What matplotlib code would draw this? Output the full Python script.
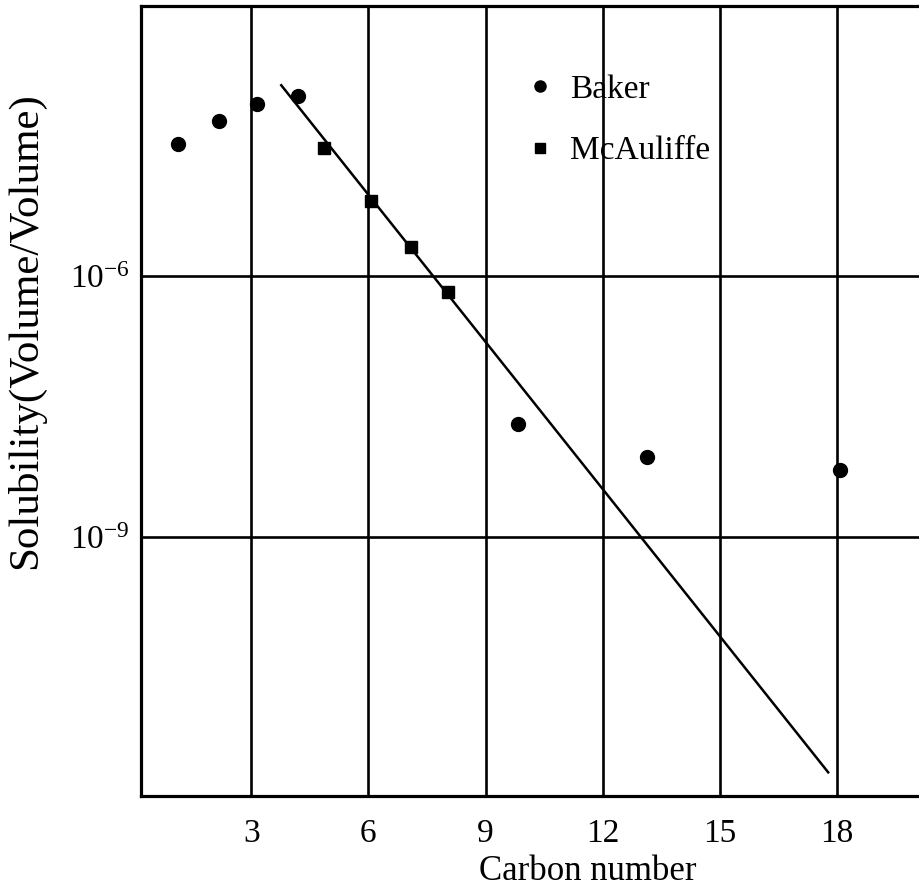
import numpy as np
import matplotlib
matplotlib.use('Agg')
import matplotlib.pyplot as plt

plt.rcParams['font.family'] = 'Liberation Serif'
plt.rcParams['mathtext.fontset'] = 'custom'
plt.rcParams['mathtext.rm'] = 'Liberation Serif'
plt.rcParams['mathtext.it'] = 'Liberation Serif:italic'

# solubility vs carbon number (volume/volume)
baker_c = [1.13, 2.18, 3.15, 4.20, 9.83, 13.14, 18.08]
baker_s = [3.3e-5, 6.0e-5, 9.5e-5, 1.17e-4, 2.0e-8, 8.3e-9, 6.0e-9]

mcauliffe_c = [4.87, 6.07, 7.09, 8.04]
mcauliffe_s = [2.95e-5, 7.2e-6, 2.14e-6, 6.5e-7]

# straight line fitted in log space
fit_c = [3.77, 17.77]
fit_s = [1.55e-4, 2.0e-12]

xticks = [3, 6, 9, 12, 15, 18]
yticks = [1e-6, 1e-9]
ytick_labels = [r'$10^{-6}$', r'$10^{-9}$']

fig = plt.figure(figsize=(9.2, 8.94), dpi=100)
ax = fig.add_axes([141/920, 98/894, 779/920, 790/894])

ax.plot(fit_c, fit_s, color='black', lw=1.8, zorder=2)
ax.plot(baker_c, baker_s, 'o', color='black', ms=10, ls='none',
        label='Baker', zorder=3)
ax.plot(mcauliffe_c, mcauliffe_s, 's', color='black', ms=9, ls='none',
        label='McAuliffe', zorder=3)

ax.set_yscale('log')
ax.set_xlim(0.18, 20.12)
ax.set_ylim(1.07e-12, 1.26e-3)

ax.set_xticks(xticks)
ax.set_xticklabels([str(t) for t in xticks])
ax.set_yticks(yticks)
ax.set_yticklabels(ytick_labels)
ax.yaxis.set_minor_locator(matplotlib.ticker.NullLocator())
ax.tick_params(axis='x', length=0, pad=16, labelsize=24)
ax.tick_params(axis='y', length=0, pad=8, labelsize=24)

ax.grid(True, which='major', color='black', lw=1.9)
ax.set_axisbelow(True)

for side in ['left', 'top', 'bottom']:
    ax.spines[side].set_linewidth(2.3)
ax.spines['right'].set_visible(False)

ax.set_xlabel('Carbon number', fontsize=25)
ax.xaxis.set_label_coords(0.574, -0.075)
ax.set_ylabel('Solubility(Volume/Volume)', fontsize=31)
ax.yaxis.set_label_coords(-0.123, 0.589)

ax.legend(loc='upper left', bbox_to_anchor=(0.4566, 0.947), frameon=False,
          fontsize=24, handlelength=1.0, handletextpad=0.4,
          labelspacing=0.92, markerscale=0.8, borderpad=0.3)

fig.savefig('out.png', dpi=100)
